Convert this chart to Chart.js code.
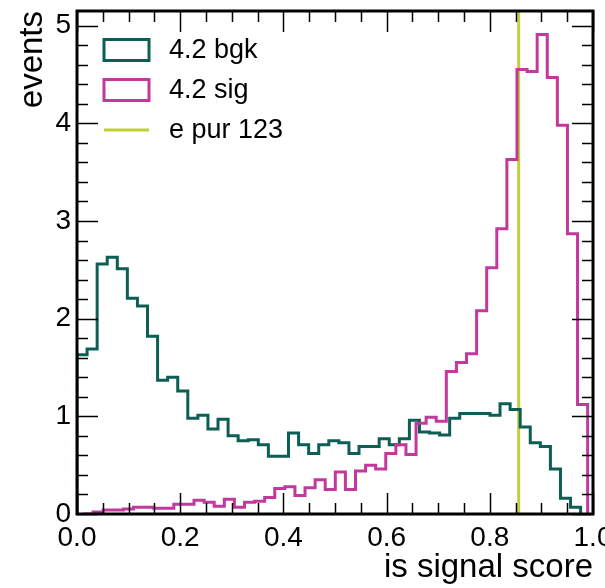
<!DOCTYPE html>
<html>
<head>
<meta charset="utf-8">
<script src="https://cdn.jsdelivr.net/npm/chart.js@4.4.1/dist/chart.umd.min.js"></script>
<style>
  html, body { margin: 0; padding: 0; background: #fff; overflow: hidden; }
  #wrap { width: 605px; height: 588px; position: relative; }
</style>
</head>
<body>
<div id="wrap"><canvas id="myChart"></canvas></div>
<script>
// histogram contents (50 bins each)
const bgkCounts = [
  1.63, 1.69, 2.56, 2.63, 2.51, 2.21, 2.13, 1.82, 1.37, 1.40,
  1.26, 0.98, 1.01, 0.87, 0.97, 0.80, 0.75, 0.76, 0.71, 0.59,
  0.59, 0.83, 0.71, 0.62, 0.71, 0.75, 0.73, 0.62, 0.69, 0.69,
  0.77, 0.71, 0.77, 0.96, 0.84, 0.83, 0.81, 0.98, 1.03, 1.03,
  1.03, 1.01, 1.13, 1.07, 0.89, 0.73, 0.69, 0.46, 0.16, 0.07
];
const sigCounts = [
  0.00, 0.02, 0.04, 0.04, 0.05, 0.07, 0.07, 0.06, 0.06, 0.10,
  0.10, 0.14, 0.12, 0.08, 0.15, 0.07, 0.12, 0.13, 0.17, 0.26,
  0.28, 0.19, 0.27, 0.35, 0.25, 0.43, 0.25, 0.44, 0.50, 0.46,
  0.62, 0.71, 0.61, 0.93, 0.99, 0.95, 1.46, 1.55, 1.64, 2.08,
  2.52, 2.92, 3.63, 4.55, 4.53, 4.91, 4.47, 3.98, 2.87, 1.12
];
// bin ranges (each histogram has its own min/max)
const bgkRange = [0.0, 0.976];
const sigRange = [0.0116, 0.9896];
const cutValue = 0.856;
const legendLabels = ["4.2 bgk", "4.2 sig", "e pur 123"];

const TEAL = "#0d5e55";
const MAGENTA = "#c2399e";
const LIME = "#c1cf3a";
const FONT = "'Liberation Sans', Arial, sans-serif";

function histPoints(counts, range) {
  const w = (range[1] - range[0]) / counts.length;
  const pts = [{ x: range[0], y: 0 }];
  counts.forEach((c, i) => pts.push({ x: range[0] + i * w, y: c }));
  pts.push({ x: range[1], y: 0 });
  return pts;
}

const yMax = 5.15;

// inward ticks on all four sides + frame + legend
const frameTicks = {
  id: "frameTicks",
  afterDatasetsDraw(chart) {
    const { ctx, chartArea: a, scales } = chart;
    const xs = scales.x, ys = scales.y;
    ctx.save();
    ctx.strokeStyle = "#000";
    ctx.lineWidth = 1.5;
    for (let i = 0; i <= 20; i++) {
      const px = Math.round(xs.getPixelForValue(i * 0.05)) + 0.5;
      const len = i % 4 === 0 ? 21 : 11;
      ctx.beginPath();
      ctx.moveTo(px, a.bottom); ctx.lineTo(px, a.bottom - len);
      ctx.moveTo(px, a.top); ctx.lineTo(px, a.top + len);
      ctx.stroke();
    }
    for (let i = 0; i <= 25; i++) {
      const py = Math.round(ys.getPixelForValue(i * 0.2)) + 0.5;
      const len = i % 5 === 0 ? 21 : 11;
      ctx.beginPath();
      ctx.moveTo(a.left, py); ctx.lineTo(a.left + len, py);
      ctx.moveTo(a.right, py); ctx.lineTo(a.right - len, py);
      ctx.stroke();
    }
    ctx.lineWidth = 3;
    ctx.strokeRect(a.left, a.top, a.right - a.left, a.bottom - a.top);

    // legend
    const lx = a.left + 27, bw = 45, bh = 21;
    ctx.font = "27px " + FONT;
    ctx.fillStyle = "#000";
    ctx.textBaseline = "middle";
    const rows = [a.top + 39, a.top + 79, a.top + 119];
    ctx.lineWidth = 3;
    ctx.strokeStyle = TEAL;
    ctx.strokeRect(lx, rows[0] - bh / 2, bw, bh);
    ctx.strokeStyle = MAGENTA;
    ctx.strokeRect(lx, rows[1] - bh / 2, bw, bh);
    ctx.strokeStyle = LIME;
    ctx.beginPath();
    ctx.moveTo(lx, rows[2]); ctx.lineTo(lx + bw, rows[2]);
    ctx.stroke();
    legendLabels.forEach((t, i) => ctx.fillText(t, a.left + 92, rows[i] + 1));
    ctx.restore();
  }
};

const ctx = document.getElementById("myChart").getContext("2d");
new Chart(ctx, {
  type: "line",
  data: {
    datasets: [
      {
        label: legendLabels[1],
        data: histPoints(sigCounts, sigRange),
        borderColor: MAGENTA,
        borderWidth: 3,
        stepped: "before",
        pointRadius: 0,
        fill: false,
        order: 1,
      },
      {
        label: legendLabels[0],
        data: histPoints(bgkCounts, bgkRange),
        borderColor: TEAL,
        borderWidth: 3,
        stepped: "before",
        pointRadius: 0,
        fill: false,
        order: 2,
      },
      {
        label: legendLabels[2],
        data: [{ x: cutValue, y: 0 }, { x: cutValue, y: yMax }],
        borderColor: LIME,
        borderWidth: 3,
        pointRadius: 0,
        fill: false,
        order: 3,
      },
    ],
  },
  options: {
    responsive: true,
    maintainAspectRatio: false,
    devicePixelRatio: 1,
    animation: false,
    events: [],
    layout: { padding: { top: 11, right: 12, left: 0, bottom: 0 } },
    plugins: { legend: { display: false }, tooltip: { enabled: false } },
    scales: {
      x: {
        type: "linear",
        min: 0,
        max: 1,
        grid: { display: false, drawTicks: false },
        border: { display: false },
        ticks: {
          stepSize: 0.2,
          includeBounds: false,
          maxRotation: 0,
          autoSkip: false,
          padding: 7,
          color: "#000",
          font: { family: FONT, size: 28 },
          callback: (v) => v.toFixed(1),
        },
        title: {
          display: true,
          text: "is signal score",
          align: "end",
          color: "#000",
          font: { family: FONT, size: 33 },
          padding: { top: 0, bottom: 0 },
        },
        afterFit(s) { s.height = 74; s.paddingLeft = 0; s.paddingRight = 0; },
      },
      y: {
        min: 0,
        max: yMax,
        grid: { display: false, drawTicks: false },
        border: { display: false },
        ticks: {
          stepSize: 1,
          includeBounds: false,
          padding: 6,
          color: "#000",
          font: { family: FONT, size: 28 },
        },
        title: {
          display: true,
          text: "events",
          align: "end",
          color: "#000",
          font: { family: FONT, size: 33 },
          padding: { top: 13, bottom: 0 },
        },
        afterFit(s) { s.width = 77; s.paddingTop = 0; s.paddingBottom = 0; },
      },
    },
  },
  plugins: [frameTicks],
});
</script>
</body>
</html>
